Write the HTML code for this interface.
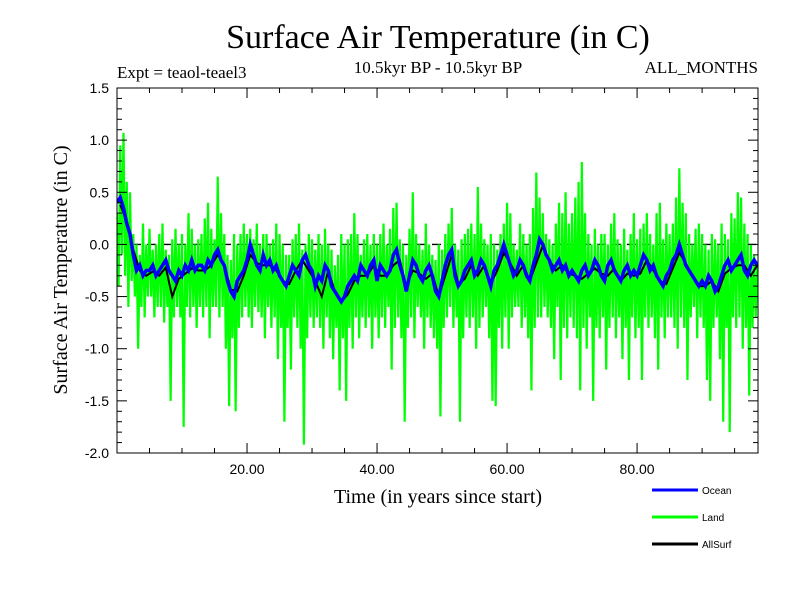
<!DOCTYPE html>
<html><head><meta charset="utf-8">
<style>
body{margin:0;background:#fff;}
svg{display:block;font-family:"Liberation Sans",sans-serif;}
.serif{font-family:"Liberation Serif",serif;}
</style></head>
<body>
<svg id="chart" width="800" height="600" viewBox="0 0 800 600">
<rect width="800" height="600" fill="#fff"/>
<text class="serif" x="438" y="48" font-size="34" text-anchor="middle">Surface Air Temperature (in C)</text>
<text class="serif" x="438" y="73" font-size="17" text-anchor="middle">10.5kyr BP - 10.5kyr BP</text>
<text class="serif" x="117" y="78" font-size="17">Expt = teaol-teael3</text>
<text class="serif" x="758" y="73" font-size="17" text-anchor="end">ALL_MONTHS</text>
<text class="serif" x="438" y="503" font-size="20" text-anchor="middle">Time (in years since start)</text>
<text class="serif" x="67" y="270" font-size="20" text-anchor="middle" transform="rotate(-90 67 270)">Surface Air Temperature (in C)</text>
<defs><clipPath id="pc"><rect x="117" y="88" width="641" height="365"/></clipPath></defs>
<g id="plot" clip-path="url(#pc)"></g>
<g id="axes"></g>
<g id="legend"></g>
</svg>
<script>
const xTicks=[20,40,60,80];
const xTickLabels=["20.00","40.00","60.00","80.00"];
const yTicks=[1.5,1.0,0.5,0.0,-0.5,-1.0,-1.5,-2.0];
const yTickLabels=["1.5","1.0","0.5","0.0","-0.5","-1.0","-1.5","-2.0"];
const seriesNames=["Ocean","Land","AllSurf"];
const landHi=[0.3,0.95,1.07,0.6,0.5,0.1,0.0,-0.1,0.2,0.0,
0.15,-0.05,0.0,0.1,0.2,-0.05,-0.1,0.05,0.15,0.0,
0.1,0.0,0.3,0.15,0.0,0.05,0.1,0.25,0.4,0.15,
0.05,0.65,0.3,0.1,-0.1,-0.15,0.1,0.0,0.1,0.2,
0.1,0.15,0.05,0.2,0.0,0.1,0.1,0.0,0.05,0.2,
0.1,0.0,-0.1,-0.1,0.05,0.1,0.2,-0.05,0.0,0.1,
0.05,-0.05,0.1,0.0,0.15,0.0,-0.05,-0.2,-0.1,0.1,
0.0,0.05,0.1,0.3,0.1,-0.1,0.05,0.1,0.0,0.1,
0.0,0.1,0.2,0.0,0.15,0.35,0.4,0.05,0.0,-0.1,
0.15,0.5,0.1,0.0,-0.05,0.2,0.0,-0.1,-0.15,0.0,
-0.05,0.1,0.2,0.35,0.0,-0.05,0.05,0.1,0.15,0.2,
0.1,0.55,0.2,0.05,0.0,0.1,0.0,-0.05,0.1,0.2,
0.4,0.3,0.0,-0.05,0.2,0.1,0.0,0.1,0.35,0.69,
0.45,0.3,0.1,0.05,0.0,0.2,0.4,0.3,0.5,0.2,
0.3,0.45,0.6,0.79,0.3,0.1,0.0,0.15,0.0,0.1,
0.1,0.0,0.2,0.3,0.05,0.0,0.15,-0.05,0.1,0.3,
0.05,0.15,0.2,0.3,0.1,0.0,0.3,0.4,0.05,0.2,
0.1,0.2,0.45,0.73,0.4,0.3,0.1,0.0,0.15,0.2,
0.1,0.0,-0.05,0.1,0.05,0.0,0.2,0.1,0.05,0.3,
0.25,0.5,0.45,0.2,0.1,0.0,-0.1,-0.2];
const landLo=[-0.4,-0.1,-0.3,-0.6,-0.35,-0.5,-1.0,-0.6,-0.7,-0.5,
-0.5,-0.7,-0.6,-0.6,-0.75,-0.6,-1.5,-0.7,-0.6,-0.7,
-1.75,-0.6,-0.7,-0.6,-0.8,-0.6,-0.7,-0.6,-0.9,-0.6,
-0.6,-0.7,-0.6,-1.0,-1.55,-0.9,-1.6,-0.8,-0.7,-0.6,
-0.7,-0.8,-0.6,-0.65,-0.7,-0.9,-0.6,-0.8,-0.7,-1.1,
-0.8,-1.7,-0.8,-1.2,-0.7,-0.8,-1.0,-1.92,-0.9,-0.7,
-0.8,-0.7,-0.8,-1.0,-0.7,-0.9,-1.1,-0.8,-1.4,-0.9,
-1.5,-0.8,-1.0,-0.7,-0.9,-0.7,-0.8,-0.7,-1.0,-0.7,
-0.9,-0.7,-0.8,-0.6,-1.2,-0.8,-0.7,-0.9,-1.7,-0.8,
-0.7,-0.9,-0.6,-0.7,-1.0,-0.7,-0.8,-0.9,-1.0,-1.65,
-0.8,-0.7,-0.6,-0.8,-0.7,-1.7,-0.9,-0.7,-0.8,-0.7,
-1.0,-0.8,-0.7,-0.6,-0.9,-1.5,-1.55,-0.8,-1.0,-0.7,
-1.0,-0.7,-0.6,-0.6,-0.8,-0.7,-0.9,-1.4,-0.8,-0.7,
-0.7,-0.6,-0.7,-0.8,-1.1,-0.6,-1.3,-0.8,-0.9,-0.7,
-0.8,-0.9,-1.4,-0.8,-1.0,-0.7,-1.5,-0.8,-0.9,-0.7,
-1.2,-0.8,-0.7,-0.9,-0.7,-1.1,-0.8,-1.3,-0.7,-0.9,
-0.8,-1.3,-0.7,-0.8,-0.7,-0.9,-1.2,-0.7,-0.9,-0.7,
-0.7,-0.8,-1.0,-0.7,-0.8,-1.3,-0.7,-0.6,-0.9,-0.7,
-0.8,-1.3,-1.5,-0.8,-0.7,-1.1,-1.7,-0.8,-1.8,-0.7,
-0.8,-0.7,-1.0,-0.8,-1.45,-0.8,-0.7,-0.6];
const ocean=[0.4,0.45,0.35,0.2,0.1,-0.1,-0.25,-0.2,-0.3,-0.25,
-0.25,-0.2,-0.3,-0.25,-0.2,-0.15,-0.25,-0.3,-0.35,-0.25,
-0.3,-0.2,-0.25,-0.15,-0.25,-0.2,-0.2,-0.25,-0.15,-0.2,
-0.1,-0.05,-0.15,-0.2,-0.35,-0.45,-0.5,-0.35,-0.3,-0.25,
-0.15,0.0,-0.1,-0.2,-0.25,-0.1,-0.2,-0.15,-0.25,-0.2,
-0.3,-0.35,-0.4,-0.3,-0.2,-0.25,-0.3,-0.15,-0.1,-0.2,
-0.25,-0.4,-0.3,-0.35,-0.2,-0.25,-0.4,-0.45,-0.5,-0.55,
-0.5,-0.4,-0.35,-0.3,-0.35,-0.2,-0.25,-0.3,-0.2,-0.15,
-0.35,-0.2,-0.25,-0.3,-0.25,-0.1,-0.05,-0.2,-0.3,-0.45,
-0.3,-0.15,-0.2,-0.3,-0.35,-0.25,-0.2,-0.3,-0.45,-0.5,
-0.35,-0.2,-0.1,-0.05,-0.3,-0.4,-0.35,-0.25,-0.2,-0.15,
-0.3,-0.25,-0.15,-0.2,-0.3,-0.4,-0.25,-0.2,-0.1,0.0,
-0.1,-0.2,-0.3,-0.25,-0.15,-0.2,-0.3,-0.35,-0.2,-0.1,
0.05,0.0,-0.1,-0.15,-0.25,-0.2,-0.15,-0.25,-0.2,-0.3,
-0.25,-0.3,-0.35,-0.25,-0.2,-0.3,-0.25,-0.15,-0.2,-0.3,
-0.35,-0.2,-0.15,-0.25,-0.3,-0.35,-0.25,-0.2,-0.3,-0.25,
-0.3,-0.2,-0.1,-0.15,-0.25,-0.2,-0.3,-0.35,-0.4,-0.3,
-0.25,-0.15,-0.1,0.0,-0.1,-0.2,-0.25,-0.3,-0.35,-0.4,
-0.35,-0.4,-0.3,-0.35,-0.45,-0.4,-0.3,-0.2,-0.15,-0.25,
-0.2,-0.15,-0.1,-0.25,-0.3,-0.2,-0.15,-0.2];
const allSurf=[0.38,0.22,-0.05,-0.25,-0.3,-0.26,-0.3,-0.22,-0.5,-0.33,
-0.28,-0.23,-0.25,-0.25,-0.2,-0.1,-0.2,-0.43,-0.45,-0.3,
-0.1,-0.18,-0.2,-0.2,-0.25,-0.35,-0.38,-0.25,-0.15,-0.25,
-0.35,-0.5,-0.25,-0.45,-0.55,-0.48,-0.35,-0.3,-0.3,-0.2,
-0.3,-0.3,-0.2,-0.15,-0.4,-0.25,-0.28,-0.33,-0.28,-0.5,
-0.3,-0.1,-0.38,-0.33,-0.2,-0.3,-0.2,-0.38,-0.25,-0.08,
-0.18,-0.3,-0.2,-0.35,-0.18,-0.01,-0.15,-0.25,-0.2,-0.28,
-0.3,-0.33,-0.28,-0.23,-0.28,-0.3,-0.23,-0.35,-0.28,-0.3,
-0.28,-0.15,-0.25,-0.35,-0.38,-0.23,-0.08,-0.18,-0.3,-0.4,
-0.4,-0.35,-0.45,-0.28,-0.23,-0.2,-0.2,-0.3,-0.2];

const X0=117,X1=758,Y0=88,Y1=453,XMAX=98.6;
const xs=t=>X0+t/XMAX*(X1-X0);
const ys=v=>Y0+(1.5-v)/3.5*(Y1-Y0);
const NS="http://www.w3.org/2000/svg";
function mk(tag,attrs,parent){const e=document.createElementNS(NS,tag);for(const k in attrs)e.setAttribute(k,attrs[k]);parent.appendChild(e);return e;}
const plot=document.getElementById('plot'),axes=document.getElementById('axes'),legend=document.getElementById('legend');

const zl=mk('line',{x1:X0,x2:X1,y1:ys(0),y2:ys(0),stroke:'#000','stroke-width':1.3,'stroke-dasharray':'9,6'},plot);



let pts=[];
for(let i=0;i<landHi.length;i++){pts.push(xs(i*0.5)+','+ys(landHi[i]));pts.push(xs(i*0.5+0.25)+','+ys(landLo[i]));}
const land=mk('polyline',{points:pts.join(' '),fill:'none',stroke:'#00ff00','stroke-width':2.2,'stroke-linejoin':'miter'},plot);



pts=allSurf.map((v,i)=>xs(i+0.5)+','+ys(v));
const als=mk('polyline',{points:pts.join(' '),fill:'none',stroke:'#000','stroke-width':2},plot);



pts=ocean.map((v,i)=>xs(i*0.5)+','+ys(v));
const oc=mk('polyline',{points:pts.join(' '),fill:'none',stroke:'#0000ff','stroke-width':3.5,'stroke-linejoin':'miter'},plot);



const fr=mk('rect',{x:X0,y:Y0,width:X1-X0,height:Y1-Y0,fill:'none',stroke:'#000','stroke-width':1},axes);


for(let v=-2.0;v<=1.501;v+=0.1){const y=ys(v);const major=Math.abs(Math.round(v*10)%5)===0;const L=major?10:5;
mk('line',{x1:X0,x2:X0+L,y1:y,y2:y,stroke:'#000'},axes);mk('line',{x1:X1-L,x2:X1,y1:y,y2:y,stroke:'#000'},axes);}
yTicks.forEach((v,i)=>{const t=mk('text',{x:X0-8,y:ys(v)+5,'font-size':14,'text-anchor':'end'},axes);t.textContent=yTickLabels[i];

});
for(let t=5;t<XMAX;t+=5){const x=xs(t);const L=(t%20===0)?10:5;mk('line',{x1:x,x2:x,y1:Y1-L,y2:Y1,stroke:'#000'},axes);mk('line',{x1:x,x2:x,y1:Y0,y2:Y0+L,stroke:'#000'},axes);}
xTicks.forEach((v,i)=>{const t=mk('text',{x:xs(v),y:Y1+21,'font-size':14,'text-anchor':'middle'},axes);t.textContent=xTickLabels[i];

});
const lcol=['#0000ff','#00ff00','#000'];
seriesNames.forEach((n,i)=>{const y=490+i*27;const g=mk('g',{},legend);


mk('line',{x1:652,x2:698,y1:y,y2:y,stroke:lcol[i],'stroke-width':3},g);
const t=mk('text',{x:702,y:y+4,'font-size':10},g);t.textContent=n;});
</script>
</body></html>
